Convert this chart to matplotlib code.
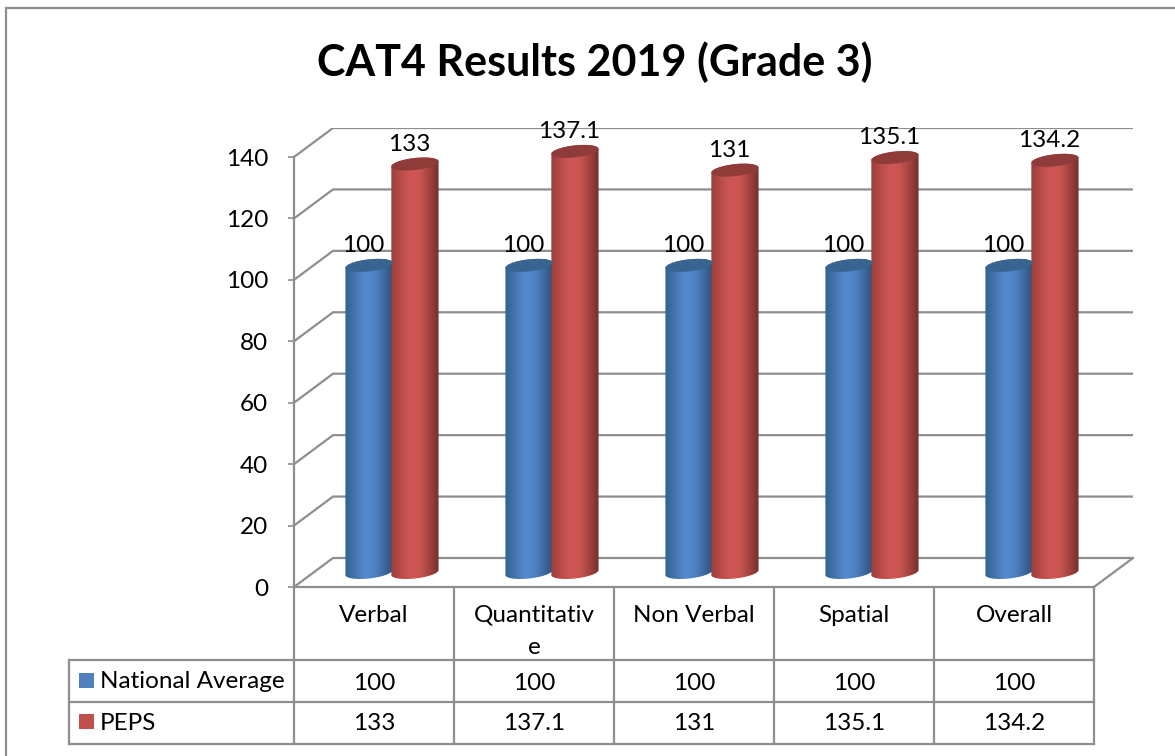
import numpy as np
import matplotlib
matplotlib.use("Agg")
import matplotlib.pyplot as plt
from matplotlib.colors import LinearSegmentedColormap
from matplotlib.patches import PathPatch, Rectangle
from matplotlib.path import Path

# chart values
categories = ["Verbal", "Quantitativ\ne", "Non Verbal", "Spatial", "Overall"]
national_average = [100, 100, 100, 100, 100]
peps = [133, 137.1, 131, 135.1, 134.2]
series_names = ["National Average", "PEPS"]
y_ticks = [0, 20, 40, 60, 80, 100, 120, 140]
title = "CAT4 Results 2019 (Grade 3)"

W, H = 1175, 756
FONT = "Lato"
GRID = "#8e8e8e"
TXT = 17.5

# plot box in pixels
LEFT, RIGHT, BOTTOM, TOP = 294, 1094, 587, 157
DEPTH_X, DEPTH_Y = 39, 29
cat_w = (RIGHT - LEFT) / len(categories)
px_y = (BOTTOM - TOP) / 140

plt.rcParams["font.family"] = [FONT, "DejaVu Sans"]
fig = plt.figure(figsize=(W / 100, H / 100), dpi=100, facecolor="white")

# page axes, pixel coordinates, for frame, title and table
page = fig.add_axes([0, 0, 1, 1])
page.set_xlim(0, W)
page.set_ylim(H, 0)
page.axis("off")

page.plot([6, 6, W], [H, 8, 8], color=GRID, lw=1.6, solid_joinstyle="miter")
page.text(595, 62, title, fontsize=31, fontweight="bold", ha="center", va="center")

# chart axes, includes the 3d depth so everything stays in data units
ax = fig.add_axes([LEFT / W, 1 - BOTTOM / H,
                   (RIGHT + DEPTH_X - LEFT) / W, (BOTTOM - TOP + DEPTH_Y) / H])
ax.patch.set_alpha(0)
dx = DEPTH_X / cat_w
dy = DEPTH_Y / px_y
xlim = (0, len(categories) + dx)
ylim = (0, 140 + dy)

for s in ["top", "right"]:
    ax.spines[s].set_visible(False)
ax.spines["left"].set_bounds(0, 140)
ax.spines["bottom"].set_bounds(0, len(categories))
for s in ["left", "bottom"]:
    ax.spines[s].set_color(GRID)
    ax.spines[s].set_linewidth(1.6)
ax.set_xticks([])
ax.set_yticks(y_ticks)
ax.tick_params(axis="y", length=4.5, width=1.2, color=GRID, pad=14, labelsize=17.5)

# back wall and side wall
for v in y_ticks:
    ax.plot([0, dx, len(categories) + dx], [v, v + dy, v + dy], color=GRID, lw=1.6, zorder=1)
ax.plot([len(categories), len(categories) + dx], [0, dy], color=GRID, lw=1.6, zorder=1, clip_on=False)


def cylinder(x, value, width, colors, cap_color):
    # cylinder standing half way into the depth of the box
    t = np.linspace(0, np.pi, 60)
    ry = 6 / px_y
    tilt = 2.5 / px_y
    base = dy / 2
    xs = x - width / 2 * np.cos(t)
    lower = -ry * np.sin(t) - tilt * np.cos(t)
    upper = ry * np.sin(t) - tilt * np.cos(t)
    # body outline: lower rim of the foot then back over the top
    bx = np.concatenate([xs, xs[::-1]])
    by = np.concatenate([base + lower, (value + base + upper)[::-1]])
    verts = np.column_stack([bx, by])
    body = PathPatch(Path(verts), transform=ax.transData, fc="none", ec="none")
    ax.add_patch(body)
    cmap = LinearSegmentedColormap.from_list("cyl", colors)
    grad = np.linspace(0, 1, 64).reshape(1, -1)
    im = ax.imshow(grad, cmap=cmap, aspect="auto", zorder=3, interpolation="bilinear",
                   extent=(x - width / 2, x + width / 2, by.min(), by.max()))
    im.set_clip_path(body)
    # top cap
    cap_y = np.concatenate([value + base + lower, (value + base + upper)[::-1]])
    ax.fill(bx, cap_y, color=cap_color, zorder=3.1, lw=0)


bar_w = 0.295
blue = ["#33618f", "#4474ad", "#5389cf", "#5086c8", "#3f6ea6", "#2c5279"]
red = ["#9a403d", "#b84c49", "#cf5855", "#c95552", "#a5443f", "#76302e"]
for i in range(len(categories)):
    centre = i + 0.5 + dx / 2
    cylinder(centre - 0.153, national_average[i], bar_w, blue, "#39648f")
    cylinder(centre + 0.134, peps[i], bar_w, red, "#8f3b39")
    for off, val in [(-0.153, national_average[i]), (0.134, peps[i])]:
        ax.text(centre + off - 6 / cat_w, val + dy / 2 + 20 / px_y, f"{val:g}",
                fontsize=TXT, ha="center", va="center", zorder=5)

ax.set_xlim(*xlim)
ax.set_ylim(*ylim)

# data table under the plot
ROW_TOP, ROW_1, ROW_2, ROW_3 = BOTTOM, 660, 702, 744
TABLE_LEFT = 69
edges = [LEFT + i * cat_w for i in range(len(categories) + 1)]
for e in edges:
    page.plot([e, e], [ROW_TOP, ROW_3], color=GRID, lw=1.6, zorder=2)
for y in [ROW_1, ROW_2, ROW_3]:
    page.plot([TABLE_LEFT, RIGHT], [y, y], color=GRID, lw=1.6, zorder=2)
page.plot([TABLE_LEFT, TABLE_LEFT], [ROW_1, ROW_3], color=GRID, lw=1.6, zorder=2)

for i, name in enumerate(categories):
    c = edges[i] + cat_w / 2
    if "\n" in name:
        a, b = name.split("\n")
        page.text(c, 615, a, fontsize=TXT, ha="center", va="center")
        page.text(c, 647, b, fontsize=TXT, ha="center", va="center")
    else:
        page.text(c, 615, name, fontsize=TXT, ha="center", va="center")
    page.text(c, 683, f"{national_average[i]:g}", fontsize=TXT, ha="center", va="center")
    page.text(c, 724, f"{peps[i]:g}", fontsize=TXT, ha="center", va="center")

for name, y, col in [(series_names[0], 681, "#4f81bd"), (series_names[1], 722, "#c0504d")]:
    page.add_patch(Rectangle((79, y - 8), 15, 15, fc=col, ec="none"))
    page.text(100, y + 1, name, fontsize=TXT, ha="left", va="center")

fig.savefig("out.png", dpi=100)
